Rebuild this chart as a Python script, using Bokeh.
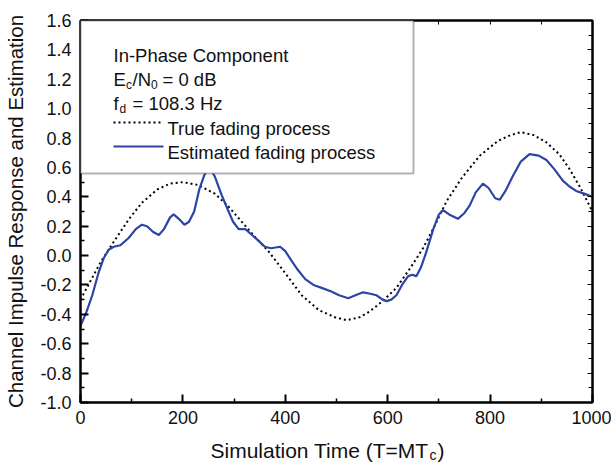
from bokeh.plotting import figure
from bokeh.layouts import column
from bokeh.models import (LinearAxis, FixedTicker, NumeralTickFormatter,
                          CustomJSTickFormatter, Label, BoxAnnotation, Range1d)
from bokeh.embed import file_html
from bokeh.resources import INLINE

# ---------------- data ----------------
true_t = [0, 20, 40, 68, 95, 120, 150, 175, 200, 230, 263, 290, 315, 340, 367,
          400, 432, 465, 497, 520, 545, 565, 590, 617, 645, 669, 690, 715, 745,
          780, 815, 840, 860, 885, 910, 935, 955, 975, 1000]
true_v = [-0.30, -0.17, -0.04, 0.11, 0.25, 0.36, 0.45, 0.49, 0.50, 0.48, 0.42,
          0.33, 0.23, 0.13, 0.03, -0.12, -0.27, -0.37, -0.42, -0.44, -0.42,
          -0.38, -0.31, -0.22, -0.08, 0.05, 0.19, 0.37, 0.53, 0.68, 0.78, 0.82,
          0.84, 0.82, 0.77, 0.69, 0.59, 0.47, 0.30]

est_t = [0, 12, 23, 35, 45, 55, 65, 78, 94, 108, 120, 130, 142, 153, 163, 175,
         182, 192, 203, 212, 222, 232, 242, 252, 262, 276, 288, 298, 309, 322,
         335, 348, 360, 372, 390, 400, 413, 425, 439, 455, 471, 490, 505, 523,
         537, 552, 566, 578, 590, 598, 607, 617, 628, 640, 648, 656, 665, 675,
         689, 700, 708, 720, 737, 750, 760, 772, 786, 797, 810, 819, 830, 845,
         860, 877, 895, 910, 925, 942, 955, 968, 985, 1000]
est_v = [-0.48, -0.38, -0.27, -0.12, -0.02, 0.04, 0.06, 0.07, 0.12, 0.18, 0.21,
         0.20, 0.16, 0.14, 0.18, 0.26, 0.28, 0.25, 0.21, 0.23, 0.30, 0.45, 0.55,
         0.60, 0.54, 0.41, 0.31, 0.23, 0.18, 0.18, 0.14, 0.10, 0.06, 0.05, 0.06,
         0.03, -0.04, -0.10, -0.16, -0.20, -0.22, -0.245, -0.27, -0.29, -0.27,
         -0.25, -0.26, -0.27, -0.30, -0.31, -0.30, -0.27, -0.20, -0.14, -0.13,
         -0.14, -0.08, 0.02, 0.18, 0.28, 0.31, 0.28, 0.25, 0.29, 0.34, 0.43,
         0.49, 0.46, 0.39, 0.38, 0.44, 0.545, 0.64, 0.69, 0.68, 0.65, 0.59,
         0.51, 0.47, 0.44, 0.42, 0.40]

x_ticks = [0, 200, 400, 600, 800, 1000]
x_minor = [100, 300, 500, 700, 900]
y_ticks = [-1.0, -0.8, -0.6, -0.4, -0.2, 0.0, 0.2, 0.4, 0.6, 0.8, 1.0, 1.2, 1.4, 1.6]
y_minor = [-0.9, -0.7, -0.5, -0.3, -0.1, 0.1, 0.3, 0.5, 0.7, 0.9, 1.1, 1.3, 1.5]

legend_title = "In-Phase Component"
series_names = ["True fading process", "Estimated fading process"]

# ---------------- layout ----------------
W, H = 611, 464
PH = 432                      # height of the plot part; x-label strip below
SH = 32                       # height of the x-label strip
GAP = 7                       # observed offset of the strip's frame
FL, FR, FT, FB = 80, 592, 20, 402
X0, X1 = 0, 1000
Y0, Y1 = -1.0, 1.6
FONT = "Liberation Sans"
TXT = "#111111"
BLUE = "#2d44a6"
LEG = 18.5


def px_x(px):
    return X0 + (px - FL) / (FR - FL) * (X1 - X0)


def px_y(py):
    return Y1 - (py - FT) / (FB - FT) * (Y1 - Y0)


p = figure(width=W, height=PH, x_range=Range1d(X0, X1), y_range=Range1d(Y0, Y1),
           output_backend="svg", toolbar_location=None,
           min_border_left=FL, min_border_right=W - FR,
           min_border_top=FT, min_border_bottom=PH - FB)
p.xgrid.visible = False
p.ygrid.visible = False
p.outline_line_color = "black"
p.outline_line_width = 2
p.background_fill_color = "white"
p.border_fill_color = "white"

# bottom axis
xa = p.xaxis[0]
xa.ticker = FixedTicker(ticks=x_ticks, minor_ticks=x_minor)
xa.major_tick_in = 8
xa.major_tick_out = 0
xa.minor_tick_in = 4
xa.minor_tick_out = 0
xa.axis_line_width = 2
xa.major_tick_line_width = 2
xa.minor_tick_line_width = 1.5
xa.major_label_text_font = FONT
xa.major_label_text_font_size = "18px"
xa.major_label_text_color = TXT
xa.major_label_standoff = 8

# left axis
ya = p.yaxis[0]
ya.ticker = FixedTicker(ticks=y_ticks, minor_ticks=y_minor)
ya.formatter = NumeralTickFormatter(format="0.0")
ya.major_tick_in = 8
ya.major_tick_out = 0
ya.minor_tick_in = 4
ya.minor_tick_out = 0
ya.axis_line_width = 2
ya.major_tick_line_width = 2
ya.minor_tick_line_width = 1.5
ya.major_label_text_font = FONT
ya.major_label_text_font_size = "18px"
ya.major_label_text_color = TXT
ya.major_label_standoff = 9
ya.axis_label = "Channel Impulse Response and Estimation"
ya.axis_label_text_font = FONT
ya.axis_label_text_font_size = "20.5px"
ya.axis_label_text_font_style = "normal"
ya.axis_label_text_color = TXT
ya.axis_label_standoff = 10

blank = CustomJSTickFormatter(code="return ''")
ra = LinearAxis(ticker=FixedTicker(ticks=y_ticks, minor_ticks=y_minor), formatter=blank,
                major_tick_in=5, major_tick_out=0, minor_tick_in=4, minor_tick_out=0,
                major_label_text_font_size="0px", major_label_standoff=0,
                axis_line_width=2)
p.add_layout(ra, "right")
ta = LinearAxis(ticker=FixedTicker(ticks=x_ticks, minor_ticks=x_minor), formatter=blank,
                major_tick_in=4, major_tick_out=0, minor_tick_in=4, minor_tick_out=0,
                major_label_text_font_size="0px", major_label_standoff=0,
                axis_line_width=2)
p.add_layout(ta, "above")

# curves
p.line(true_t, true_v, line_color="black", line_width=2, line_dash="2 3")
p.line(est_t, est_v, line_color=BLUE, line_width=2.2)

# legend box
box = BoxAnnotation(left=px_x(80), right=px_x(413), top=px_y(20), bottom=px_y(173),
                    fill_color="white", fill_alpha=1.0, line_color="black",
                    line_width=2, level="annotation")
p.add_layout(box)


def lab(px, py, text, size=LEG):
    p.add_layout(Label(x=px_x(px), y=px_y(py), text=text, text_font=FONT,
                       text_font_size=f"{size}px", text_color=TXT,
                       text_baseline="alphabetic", text_align="left", level="overlay"))


LX = 113
lab(LX, 55, legend_title)
# E_c/N_0 = 0 dB
lab(LX, 79, "E")
lab(LX + 12.5, 84, "c", 12)
lab(LX + 19, 79, "/N")
lab(LX + 37.5, 84, "0", 12)
lab(LX + 49, 79, "= 0 dB")
# f_d = 108.3 Hz
lab(LX, 103, "f")
lab(LX + 6, 108, "d", 12)
lab(LX + 19, 103, "= 108.3 Hz")
# series entries
r1 = p.line([px_x(113), px_x(163)], [px_y(122), px_y(122)], line_color="black",
            line_width=2, line_dash="2 3")
r1.level = "overlay"
r2 = p.line([px_x(113), px_x(163)], [px_y(146), px_y(146)], line_color=BLUE,
            line_width=2.2)
r2.level = "overlay"
lab(167, 128, series_names[0])
lab(167, 152, series_names[1])

# ---------------- x-axis title strip (with subscript) ----------------
# the column aligns this strip's frame with the plot frame (FL..FR)
q = figure(width=W, height=SH, x_range=Range1d(FL, FR), y_range=Range1d(0, SH),
           output_backend="svg", toolbar_location=None, x_axis_type=None,
           y_axis_type=None, title=None, min_border=0, min_border_left=0,
           min_border_right=0, min_border_top=0, min_border_bottom=0)
q.xgrid.visible = False
q.ygrid.visible = False
q.outline_line_color = None
q.background_fill_color = "white"
q.border_fill_color = "white"

XS = 21
xl_main = "Simulation Time (T=MT"
xl_end = 428                   # page column where "...MT" ends
base = 457                     # page pixel row of the baseline
Q_BOTTOM = PH + GAP + SH       # page row of the strip's bottom edge


def qlab(px, py, text, size, align="left"):
    q.add_layout(Label(x=px, y=Q_BOTTOM - py, text=text, text_font=FONT,
                       text_font_size=f"{size}px", text_color=TXT,
                       text_baseline="alphabetic", text_align=align))


qlab(xl_end, base, xl_main, XS, "right")
qlab(xl_end + 1, base + 4, "c", 14)
qlab(xl_end + 9, base, ")", XS)

layout = column(p, q, spacing=0)
open("out.html", "w").write(file_html(layout, INLINE))
